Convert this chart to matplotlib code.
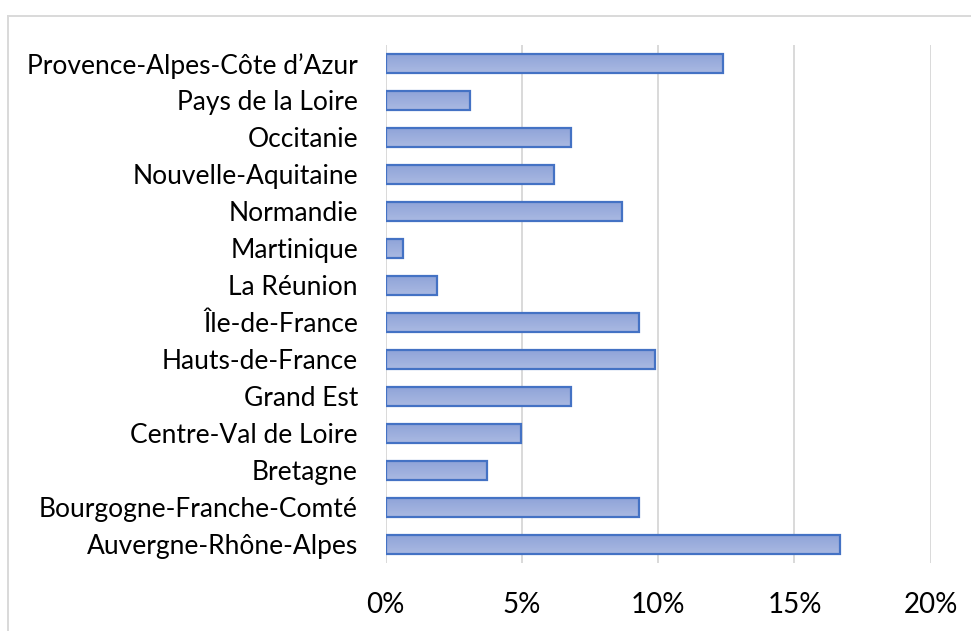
import numpy as np
import matplotlib.pyplot as plt
from matplotlib.lines import Line2D
from matplotlib.colors import LinearSegmentedColormap
from matplotlib.ticker import PercentFormatter

# regions, bottom to top as drawn
regions = [
    "Auvergne-Rhône-Alpes",
    "Bourgogne-Franche-Comté",
    "Bretagne",
    "Centre-Val de Loire",
    "Grand Est",
    "Hauts-de-France",
    "Île-de-France",
    "La Réunion",
    "Martinique",
    "Normandie",
    "Nouvelle-Aquitaine",
    "Occitanie",
    "Pays de la Loire",
    "Provence-Alpes-Côte d’Azur",
]
shares = [16.67, 9.28, 3.72, 4.95, 6.81, 9.90, 9.28, 1.87, 0.64, 8.66, 6.19, 6.81, 3.11, 12.36]
xticks = [0, 5, 10, 15, 20]

plt.rcParams['font.family'] = ['Lato', 'DejaVu Sans']

fig = plt.figure(figsize=(9.71, 6.31), dpi=100)
ax = fig.add_axes([0.3972, 0.1078, 0.5613, 0.8209])

y = np.arange(len(regions))
bars = ax.barh(y, shares, height=0.526, color='none', edgecolor='#4472C4', linewidth=1.6, zorder=3)

# gradient fill like the office chart
grad = np.linspace(0, 1, 64).reshape(-1, 1)
cmap = LinearSegmentedColormap.from_list('bargrad', ['#AAB9E2', '#8EA3D8'])
for b in bars:
    x0, y0 = b.get_x(), b.get_y()
    w, h = b.get_width(), b.get_height()
    im = ax.imshow(grad, extent=(x0, x0 + w, y0 + h, y0), cmap=cmap, aspect='auto', zorder=2)
    im.set_clip_path(b)

ax.set_xlim(0, 20)
ax.set_ylim(-0.5, len(regions) - 0.5)
ax.set_xticks(xticks)
ax.xaxis.set_major_formatter(PercentFormatter(decimals=0))
ax.set_yticks(y)
ax.set_yticklabels(regions)

ax.grid(axis='x', color='#D9D9D9', linewidth=1.4, zorder=0)
ax.set_axisbelow(True)
for s in ax.spines.values():
    s.set_visible(False)
ax.tick_params(axis='y', length=0, pad=20, labelsize=19)
ax.tick_params(axis='x', length=0, pad=21, labelsize=20)

# chart border (cut off at right and bottom in the source)
bx, by = 8 / 971, 1 - 16 / 631
fig.add_artist(Line2D([bx, 1], [by, by], color='#D9D9D9', linewidth=1.4, transform=fig.transFigure))
fig.add_artist(Line2D([bx, bx], [0, by], color='#D9D9D9', linewidth=1.4, transform=fig.transFigure))

fig.savefig('out.png', dpi=100)
